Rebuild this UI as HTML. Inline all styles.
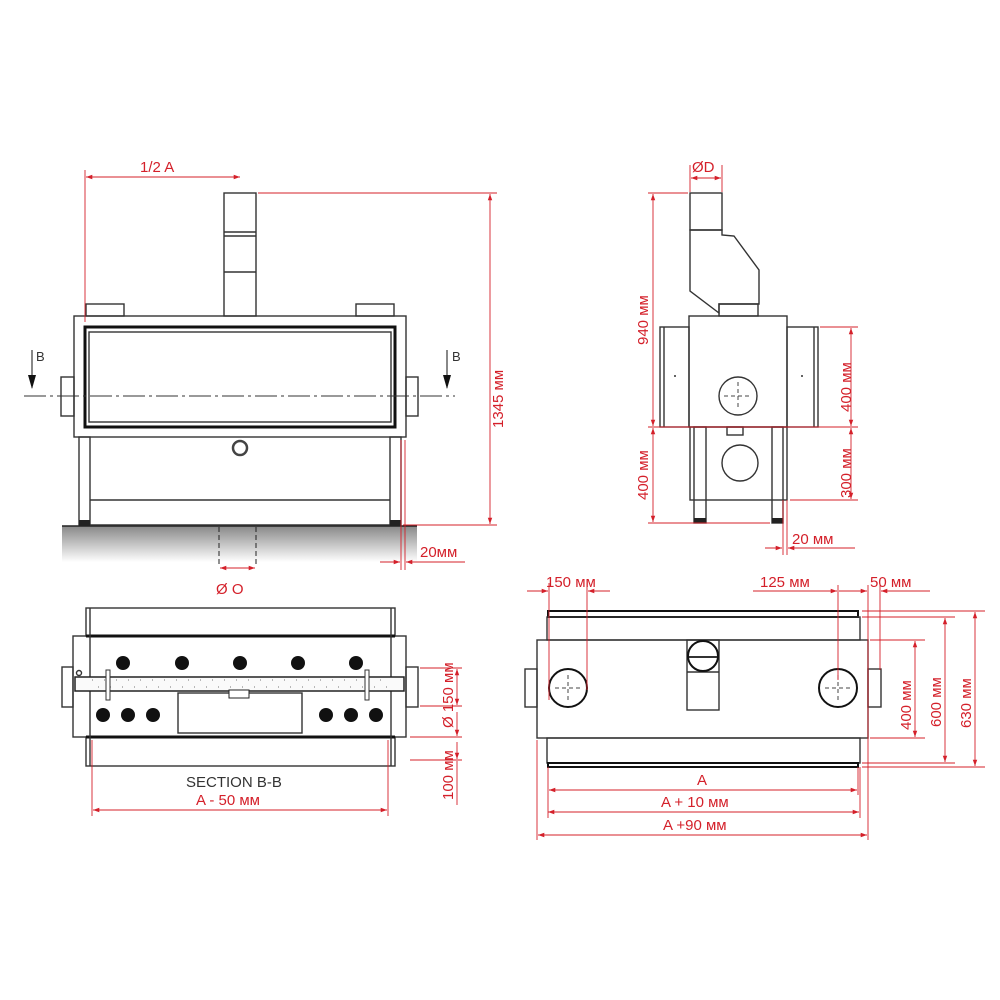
<!DOCTYPE html>
<html><head><meta charset="utf-8"><style>
html,body{margin:0;padding:0;background:#fff}
svg{display:block}
text{font-family:"Liberation Sans",sans-serif}
.r{fill:#d4202a;font-size:15px}
.k{stroke:#333;fill:none;stroke-width:1.4}
.t{stroke:#111;fill:none;stroke-width:3}
.d{stroke:#d4202a;stroke-width:0.9;fill:none}
</style></head><body>
<svg width="1000" height="1000" viewBox="0 0 1000 1000" xmlns="http://www.w3.org/2000/svg">
<defs>
<marker id="a" viewBox="0 0 10 10" refX="10" refY="5" markerWidth="12" markerHeight="7" orient="auto-start-reverse"><path d="M0,1.5 L10,5 L0,8.5z" fill="#d4202a"/></marker>
<linearGradient id="g" x1="0" y1="0" x2="0" y2="1"><stop offset="0" stop-color="#888"/><stop offset="1" stop-color="#fff"/></linearGradient>
</defs>

<!-- FRONT VIEW -->
<rect x="62" y="526" width="355" height="36" fill="url(#g)"/>
<line x1="62" y1="526" x2="417" y2="526" stroke="#222" stroke-width="1.5"/>
<rect class="k" x="224" y="193" width="32" height="123"/>
<line class="k" x1="224" y1="232" x2="256" y2="232"/><line class="k" x1="224" y1="236" x2="256" y2="236"/><line class="k" x1="224" y1="272" x2="256" y2="272"/>
<rect class="k" x="86" y="304" width="38" height="12"/><rect class="k" x="356" y="304" width="38" height="12"/>
<rect class="k" x="74" y="316" width="332" height="121"/>
<rect class="t" x="85" y="327" width="310" height="100" stroke-width="2.5"/>
<rect class="k" x="89" y="332" width="302" height="90"/>
<rect class="k" x="61" y="377" width="13" height="39"/><rect class="k" x="406" y="377" width="12" height="39"/>
<line x1="24" y1="396" x2="455" y2="396" stroke="#333" stroke-width="1" stroke-dasharray="22,4,3,4"/>
<line x1="32" y1="350" x2="32" y2="388" stroke="#111"/><path d="M28,375 L32,389 L36,375z" fill="#111"/>
<line x1="447" y1="350" x2="447" y2="388" stroke="#111"/><path d="M443,375 L447,389 L451,375z" fill="#111"/>
<text x="36" y="361" font-size="13" fill="#333">B</text><text x="452" y="361" font-size="13" fill="#333">B</text>
<rect class="k" x="79" y="437" width="11" height="88"/><rect class="k" x="390" y="437" width="11" height="88"/>
<rect x="79" y="520" width="11" height="6" fill="#222"/><rect x="390" y="520" width="11" height="6" fill="#222"/>
<line class="k" x1="90" y1="500" x2="390" y2="500"/><line class="k" x1="90" y1="525" x2="390" y2="525"/>
<circle cx="240" cy="448" r="7" fill="none" stroke="#444" stroke-width="2.5"/>
<line x1="219" y1="527" x2="219" y2="566" stroke="#222" stroke-dasharray="5,3"/>
<line x1="256" y1="527" x2="256" y2="566" stroke="#222" stroke-dasharray="5,3"/>
<line class="d" x1="220" y1="568" x2="255" y2="568" marker-start="url(#a)" marker-end="url(#a)"/>
<text x="216" y="594" class="r" font-size="19">Ø O</text>
<!-- 1/2 A -->
<line class="d" x1="85" y1="170" x2="85" y2="322"/>
<line class="d" x1="86" y1="177" x2="240" y2="177" marker-start="url(#a)" marker-end="url(#a)"/>
<text x="140" y="172" class="r" font-size="16">1/2 A</text>
<!-- 1345 -->
<line class="d" x1="258" y1="193" x2="497" y2="193"/>
<line class="d" x1="403" y1="525" x2="497" y2="525"/>
<line class="d" x1="490" y1="194" x2="490" y2="524" marker-start="url(#a)" marker-end="url(#a)"/>
<text transform="translate(503,428) rotate(-90)" class="r" font-size="15">1345 мм</text>
<!-- 20мм front -->
<line class="d" x1="401" y1="440" x2="401" y2="570"/><line class="d" x1="405" y1="440" x2="405" y2="570"/>
<line class="d" x1="380" y1="562" x2="400" y2="562" marker-end="url(#a)"/>
<line class="d" x1="406" y1="562" x2="465" y2="562" marker-start="url(#a)"/>
<text x="420" y="557" class="r" font-size="14">20мм</text>

<!-- SIDE VIEW -->
<rect class="k" x="690" y="193" width="32" height="37"/>
<path class="k" d="M690,230 L722,230 L722,235 L734,236 L759,270 L759,304 L719,304 L719,313 L690,291 Z"/>
<rect class="k" x="719" y="304" width="39" height="12"/>
<rect class="k" x="689" y="316" width="98" height="111"/>
<rect class="k" x="660" y="327" width="29" height="100"/><line class="k" x1="664" y1="327" x2="664" y2="427"/>
<rect class="k" x="787" y="327" width="31" height="100"/><line class="k" x1="814" y1="327" x2="814" y2="427"/>
<circle cx="675" cy="376" r="1" fill="#333"/><circle cx="802" cy="376" r="1" fill="#333"/>
<circle class="k" cx="738" cy="396" r="19"/>
<path d="M738,382 V410 M724,396 H752" stroke="#444" stroke-dasharray="4,3"/>
<rect class="k" x="727" y="427" width="16" height="8"/>
<rect class="k" x="690" y="427" width="97" height="73"/>
<rect class="k" x="694" y="427" width="12" height="96"/><rect class="k" x="772" y="427" width="11" height="96"/>
<rect x="694" y="518" width="12" height="5" fill="#222"/><rect x="772" y="518" width="11" height="5" fill="#222"/>
<circle class="k" cx="740" cy="463" r="18"/>
<!-- dims side -->
<line class="d" x1="690" y1="165" x2="690" y2="192"/><line class="d" x1="722" y1="165" x2="722" y2="192"/>
<line class="d" x1="691" y1="178" x2="721" y2="178" marker-start="url(#a)" marker-end="url(#a)"/>
<text x="692" y="172" class="r" font-size="16">ØD</text>
<line class="d" x1="648" y1="193" x2="688" y2="193"/>
<line class="d" x1="648" y1="427" x2="858" y2="427"/>
<line class="d" x1="648" y1="523" x2="770" y2="523"/>
<line class="d" x1="653" y1="194" x2="653" y2="426" marker-start="url(#a)" marker-end="url(#a)"/>
<line class="d" x1="653" y1="428" x2="653" y2="522" marker-start="url(#a)" marker-end="url(#a)"/>
<text transform="translate(648,345) rotate(-90)" class="r">940 мм</text>
<text transform="translate(648,500) rotate(-90)" class="r">400 мм</text>
<line class="d" x1="820" y1="327" x2="858" y2="327"/>
<line class="d" x1="790" y1="500" x2="858" y2="500"/>
<line class="d" x1="851" y1="328" x2="851" y2="426" marker-start="url(#a)" marker-end="url(#a)"/>
<line class="d" x1="851" y1="428" x2="851" y2="499" marker-start="url(#a)" marker-end="url(#a)"/>
<text transform="translate(851,412) rotate(-90)" class="r">400 мм</text>
<text transform="translate(851,498) rotate(-90)" class="r">300 мм</text>
<line class="d" x1="783" y1="500" x2="783" y2="555"/><line class="d" x1="787" y1="500" x2="787" y2="555"/>
<line class="d" x1="765" y1="548" x2="782" y2="548" marker-end="url(#a)"/>
<line class="d" x1="788" y1="548" x2="855" y2="548" marker-start="url(#a)"/>
<text x="792" y="544" class="r" font-size="14">20 мм</text>

<!-- SECTION B-B -->
<rect class="k" x="86" y="608" width="309" height="28"/>
<rect class="k" x="73" y="636" width="333" height="101"/>
<rect class="k" x="86" y="737" width="309" height="29"/>
<line x1="86" y1="636" x2="395" y2="636" stroke="#111" stroke-width="3"/>
<line x1="86" y1="737" x2="395" y2="737" stroke="#111" stroke-width="3"/>
<line class="k" x1="90" y1="608" x2="90" y2="766"/><line class="k" x1="391" y1="608" x2="391" y2="766"/>
<rect class="k" x="62" y="667" width="11" height="40"/><rect class="k" x="406" y="667" width="12" height="40"/>
<rect x="75" y="677" width="329" height="14" fill="#fafafa" stroke="#222" stroke-width="1.5"/>
<line x1="92" y1="680" x2="388" y2="680" stroke="#777" stroke-width="1" stroke-dasharray="1,11"/>
<line x1="98" y1="687" x2="388" y2="687" stroke="#777" stroke-width="1" stroke-dasharray="1,11"/>
<circle class="k" cx="79" cy="673" r="2.5"/>
<rect x="106" y="670" width="4" height="30" fill="#fff" stroke="#333"/><rect x="365" y="670" width="4" height="30" fill="#fff" stroke="#333"/>
<g fill="#111"><circle cx="123" cy="663" r="7"/><circle cx="182" cy="663" r="7"/><circle cx="240" cy="663" r="7"/><circle cx="298" cy="663" r="7"/><circle cx="356" cy="663" r="7"/>
<circle cx="103" cy="715" r="7"/><circle cx="128" cy="715" r="7"/><circle cx="153" cy="715" r="7"/><circle cx="326" cy="715" r="7"/><circle cx="351" cy="715" r="7"/><circle cx="376" cy="715" r="7"/></g>
<rect class="k" x="178" y="693" width="124" height="40"/>
<rect x="229" y="690" width="20" height="8" fill="#fff" stroke="#222"/>
<text x="186" y="787" font-size="15" fill="#333">SECTION B-B</text>
<text x="196" y="805" class="r">A - 50 мм</text>
<line class="d" x1="92" y1="740" x2="92" y2="816"/><line class="d" x1="388" y1="740" x2="388" y2="816"/>
<line class="d" x1="93" y1="810" x2="387" y2="810" marker-start="url(#a)" marker-end="url(#a)"/>
<line class="d" x1="420" y1="668" x2="462" y2="668"/><line class="d" x1="420" y1="706" x2="462" y2="706"/>
<line class="d" x1="410" y1="737" x2="462" y2="737"/><line class="d" x1="410" y1="760" x2="462" y2="760"/>
<line class="d" x1="457" y1="669" x2="457" y2="705" marker-start="url(#a)" marker-end="url(#a)"/>
<line class="d" x1="457" y1="712" x2="457" y2="736" marker-end="url(#a)"/>
<line class="d" x1="457" y1="761" x2="457" y2="805"/>
<line class="d" x1="457" y1="742" x2="457" y2="759" marker-end="url(#a)"/>
<text transform="translate(453,728) rotate(-90)" class="r">Ø 150 мм</text>
<text transform="translate(453,800) rotate(-90)" class="r">100 мм</text>

<!-- TOP VIEW -->
<rect x="548" y="611" width="310" height="6" fill="none" stroke="#111" stroke-width="2"/>
<rect class="k" x="547" y="617" width="313" height="23"/>
<rect class="k" x="537" y="640" width="331" height="98"/>
<rect class="k" x="547" y="738" width="313" height="25"/>
<rect x="548" y="763" width="310" height="4" fill="none" stroke="#111" stroke-width="2"/>
<rect class="k" x="525" y="669" width="12" height="38"/><rect class="k" x="868" y="669" width="13" height="38"/>
<circle cx="568" cy="688" r="19" fill="none" stroke="#111" stroke-width="2"/>
<circle cx="838" cy="688" r="19" fill="none" stroke="#111" stroke-width="2"/>
<path d="M568,675 V701 M555,688 H581 M838,675 V701 M825,688 H851" stroke="#444" stroke-dasharray="4,3"/>
<rect class="k" x="687" y="640" width="32" height="70"/>
<line class="k" x1="687" y1="672" x2="719" y2="672"/>
<circle cx="703" cy="656" r="15" fill="#fff" stroke="#111" stroke-width="2"/>
<line x1="689" y1="657" x2="717" y2="657" stroke="#333" stroke-width="2"/>
<!-- top dims -->
<line class="d" x1="549" y1="583" x2="549" y2="700"/><line class="d" x1="587" y1="583" x2="587" y2="690"/>
<line class="d" x1="527" y1="591" x2="548" y2="591" marker-end="url(#a)"/>
<line class="d" x1="588" y1="591" x2="610" y2="591" marker-start="url(#a)"/>
<text x="546" y="587" class="r">150 мм</text>
<line class="d" x1="838" y1="585" x2="838" y2="680"/><line class="d" x1="868" y1="585" x2="868" y2="840"/><line class="d" x1="880" y1="585" x2="880" y2="670"/>
<line class="d" x1="753" y1="591" x2="837" y2="591" marker-end="url(#a)"/>
<line class="d" x1="839" y1="591" x2="867" y2="591" marker-end="url(#a)"/>
<line class="d" x1="881" y1="591" x2="930" y2="591" marker-start="url(#a)"/>
<text x="760" y="587" class="r">125 мм</text>
<text x="870" y="587" class="r">50 мм</text>
<line class="d" x1="862" y1="611" x2="985" y2="611"/><line class="d" x1="862" y1="617" x2="955" y2="617"/>
<line class="d" x1="870" y1="640" x2="925" y2="640"/><line class="d" x1="870" y1="738" x2="925" y2="738"/>
<line class="d" x1="862" y1="763" x2="955" y2="763"/><line class="d" x1="862" y1="767" x2="985" y2="767"/>
<line class="d" x1="915" y1="641" x2="915" y2="737" marker-start="url(#a)" marker-end="url(#a)"/>
<line class="d" x1="945" y1="618" x2="945" y2="762" marker-start="url(#a)" marker-end="url(#a)"/>
<line class="d" x1="975" y1="612" x2="975" y2="766" marker-start="url(#a)" marker-end="url(#a)"/>
<text transform="translate(911,730) rotate(-90)" class="r">400 мм</text>
<text transform="translate(941,727) rotate(-90)" class="r">600 мм</text>
<text transform="translate(971,728) rotate(-90)" class="r">630 мм</text>
<line class="d" x1="548" y1="767" x2="548" y2="818"/><line class="d" x1="858" y1="767" x2="858" y2="795"/>
<line class="d" x1="860" y1="767" x2="860" y2="818"/><line class="d" x1="537" y1="740" x2="537" y2="840"/>
<line class="d" x1="549" y1="790" x2="857" y2="790" marker-start="url(#a)" marker-end="url(#a)"/>
<line class="d" x1="548" y1="812" x2="859" y2="812" marker-start="url(#a)" marker-end="url(#a)"/>
<line class="d" x1="538" y1="835" x2="867" y2="835" marker-start="url(#a)" marker-end="url(#a)"/>
<text x="697" y="785" class="r" font-size="16">A</text>
<text x="661" y="807" class="r">A + 10 мм</text>
<text x="663" y="830" class="r">A +90 мм</text>
</svg>
</body></html>
